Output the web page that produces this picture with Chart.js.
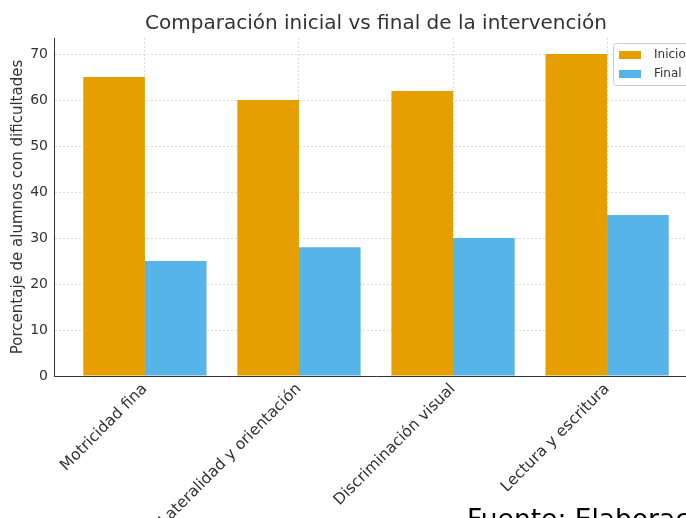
<!DOCTYPE html>
<html>
<head>
<meta charset="utf-8">
<script src="https://cdn.jsdelivr.net/npm/chart.js@4.4.1/dist/chart.umd.min.js"></script>
<style>
  html, body { margin: 0; padding: 0; background: #fff; overflow: hidden; }
  #wrap { position: relative; width: 686px; height: 518px; overflow: hidden; }
  #c { position: absolute; left: 0; top: 0; }
  #src { position: absolute; left: 467px; top: 506px; font-family: "DejaVu Sans", sans-serif; font-size: 26.5px; line-height: 1; color: #000; white-space: nowrap; }
</style>
</head>
<body>
<div id="wrap">
  <canvas id="c" width="752" height="518"></canvas>
  <div id="src">Fuente: Elaboración propia</div>
</div>
<script>
const categories = ["Motricidad fina", "Lateralidad y orientación", "Discriminación visual", "Lectura y escritura"];
const inicioValues = [65, 60, 62, 70];
const finalValues = [25, 28, 30, 35];
const seriesNames = ["Inicio", "Final"];
const yTicks = [0, 10, 20, 30, 40, 50, 60, 70];

const FONT = "'DejaVu Sans', sans-serif";
const ORANGE = "#E69F00";
const BLUE = "#56B4E9";

const legendPlugin = {
  id: "mplLegend",
  afterDraw(chart) {
    const ctx = chart.ctx;
    const ca = chart.chartArea;
    const x = ca.right - 85, y = ca.top + 5, w = 100, h = 42;
    ctx.save();
    ctx.beginPath();
    if (ctx.roundRect) ctx.roundRect(x + 0.5, y + 0.5, w, h, 3); else ctx.rect(x + 0.5, y + 0.5, w, h);
    ctx.fillStyle = "rgba(255,255,255,0.85)";
    ctx.fill();
    ctx.strokeStyle = "#cccccc";
    ctx.lineWidth = 1;
    ctx.stroke();
    chart.data.datasets.forEach((ds, i) => {
      const ry = y + 8 + i * 19;
      ctx.fillStyle = ds.backgroundColor;
      ctx.fillRect(x + 6, ry, 22, 8);
      ctx.fillStyle = "#333";
      ctx.font = "12px " + FONT;
      ctx.textBaseline = "middle";
      ctx.textAlign = "left";
      ctx.fillText(ds.label, x + 41, ry + 4);
    });
    ctx.restore();
  }
};

new Chart(document.getElementById("c"), {
  type: "bar",
  data: {
    datasets: [
      { label: seriesNames[0], data: inicioValues.map((v, i) => ({ x: i, y: v })), backgroundColor: ORANGE },
      { label: seriesNames[1], data: finalValues.map((v, i) => ({ x: i, y: v })), backgroundColor: BLUE }
    ]
  },
  options: {
    responsive: false,
    animation: false,
    devicePixelRatio: 1,
    layout: { padding: { left: 0, right: 0, top: 0, bottom: 0 } },
    datasets: { bar: { barPercentage: 1.0, categoryPercentage: 0.8 } },
    plugins: {
      legend: { display: false },
      tooltip: { enabled: false },
      title: {
        display: true,
        text: "Comparación inicial vs final de la intervención",
        color: "#333",
        font: { family: FONT, size: 20, weight: "normal", lineHeight: 1.2 },
        padding: { top: 12, bottom: 2 }
      }
    },
    scales: {
      x: {
        type: "linear",
        offset: false,
        min: -0.59,
        max: 3.59,
        afterBuildTicks(scale) { scale.ticks = categories.map((c, i) => ({ value: i })); },
        afterFit(scale) { scale.height = 142; },
        ticks: {
          autoSkip: false,
          maxRotation: 45,
          minRotation: 45,
          padding: 4,
          color: "#333",
          font: { family: FONT, size: 15.5 },
          callback: (v) => categories[v]
        },
        grid: { offset: false, color: "rgba(0,0,0,0.14)", drawTicks: false, lineWidth: 1 },
        border: { display: true, color: "#333", width: 1, dash: [2, 2] }
      },
      y: {
        min: 0,
        max: 73.5,
        afterBuildTicks(scale) { scale.ticks = yTicks.map(v => ({ value: v })); },
        afterFit(scale) { scale.width = 54; },
        ticks: { color: "#333", font: { family: FONT, size: 14 }, padding: 6 },
        grid: { color: "rgba(0,0,0,0.14)", drawTicks: false, lineWidth: 1 },
        border: { display: true, color: "#333", width: 1, dash: [2, 2] },
        title: {
          display: true,
          text: "Porcentaje de alumnos con dificultades",
          color: "#333",
          font: { family: FONT, size: 15 },
          padding: { top: 9, bottom: 0 }
        }
      },
      yRight: {
        position: "right",
        min: 0,
        max: 1,
        afterFit(scale) { scale.width = 54; },
        ticks: { display: false },
        grid: { display: false, drawTicks: false },
        border: { display: false }
      }
    }
  },
  plugins: [legendPlugin]
});
</script>
</body>
</html>
